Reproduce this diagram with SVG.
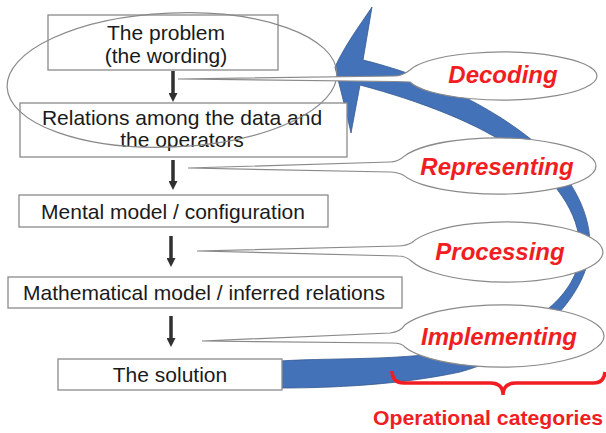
<svg xmlns="http://www.w3.org/2000/svg" width="606" height="433" viewBox="0 0 606 433">
<defs>
<style>
.box{fill:#fff;stroke:#8a8a8a;stroke-width:1.3}
.bt{font-family:"Liberation Sans",Arial,sans-serif;font-size:21px;fill:#1a1a1a;text-anchor:middle}
.call{fill:#fff;stroke:#8a8a8a;stroke-width:1.2}
.ct{font-family:"Liberation Sans",Arial,sans-serif;font-size:24px;font-weight:bold;font-style:italic;fill:#f01e23;text-anchor:middle}
.arr{stroke:#303030;stroke-width:3.5;fill:none}
</style>
<marker id="ah" viewBox="0 0 9 9" refX="0" refY="4.5" markerWidth="9" markerHeight="9" markerUnits="userSpaceOnUse" orient="auto">
<path d="M0,0 L9,4.5 L0,9 Z" fill="#303030"/>
</marker>
</defs>
<rect width="606" height="433" fill="#fff"/>

<g id="cycle-arrow">
<path d="M363 60 C420 74 482 100 532 140 C568 172 590 208 590 245 C590 290 540 350 460 372 C400 385 330 388 282 388 L280 361 C340 357 420 362 480 345 C540 325 580 290 580 250 C580 212 554 178 515 150 C480 124 420 101 360 85 L351 133 C346 110 340 88 335 67 C345 45 360 25 372 7 Z" fill="#4472b8" stroke="#36598e" stroke-width="0.8"/>
</g>

<g id="n1"><rect class="box" x="48" y="15" width="230" height="55"/><text class="bt" x="166" y="40">The problem</text><text class="bt" x="166" y="63">(the wording)</text></g>
<g id="n2"><rect class="box" x="20" y="103" width="327" height="54"/><text class="bt" x="182" y="125">Relations among the data and</text><text class="bt" x="182" y="147">the operators</text></g>
<g id="n3"><rect class="box" x="19" y="195" width="309" height="32"/><text class="bt" x="173" y="219">Mental model / configuration</text></g>
<g id="n4"><rect class="box" x="8" y="277" width="394" height="31"/><text class="bt" x="204" y="300">Mathematical model / inferred relations</text></g>
<g id="n5"><rect class="box" x="58" y="359" width="224" height="31"/><text class="bt" x="170" y="382">The solution</text></g>

<g id="group-ellipse"><ellipse cx="172" cy="80" rx="165" ry="67" transform="rotate(-2.5 172 80)" fill="none" stroke="#8a8a8a" stroke-width="1.2"/></g>

<g id="connectors">
<line class="arr" x1="173" y1="71" x2="173" y2="93" marker-end="url(#ah)"/>
<line class="arr" x1="173" y1="160" x2="173" y2="181" marker-end="url(#ah)"/>
<line class="arr" x1="171" y1="236" x2="171" y2="258" marker-end="url(#ah)"/>
<line class="arr" x1="171" y1="316" x2="171" y2="338" marker-end="url(#ah)"/>
</g>

<g id="decoding">
<path class="call" d="M410 70 Q402 76 395 76 L178 79 L395 81.5 Q403 81.5 410 82 A95 24 0 1 0 410 70 Z"/>
<text class="ct" x="503" y="83">Decoding</text>
</g>
<g id="representing">
<path class="call" d="M404 156.4 Q398 162 390 162 L188 168 L390 172 Q398 172 404 175.6 A99 28 0 1 0 404 156.4 Z"/>
<text class="ct" x="497" y="175">Representing</text>
</g>
<g id="processing">
<path class="call" d="M412 242.5 Q406 246 398 246 L197 251 L398 256 Q406 256 412 261.5 A98 30 0 1 0 412 242.5 Z"/>
<text class="ct" x="500" y="260">Processing</text>
</g>
<g id="implementing">
<path class="call" d="M405 324.8 Q400 332 390 333 L202 341 L392 343 Q402 343 405 347.2 A103 31 0 1 0 405 324.8 Z"/>
<text class="ct" x="499" y="345">Implementing</text>
</g>

<g id="categories">
<path d="M392 371 Q392 383 404 383 L490 383 Q503 383 503 395 Q503 383 516 383 L594 383 Q604 383 605 372" fill="none" stroke="#f01e23" stroke-width="3.5"/>
<text x="373" y="425" font-family="'Liberation Sans',Arial,sans-serif" font-size="21" font-weight="bold" fill="#f01e23" textLength="230" lengthAdjust="spacingAndGlyphs">Operational categories</text>
</g>
</svg>
